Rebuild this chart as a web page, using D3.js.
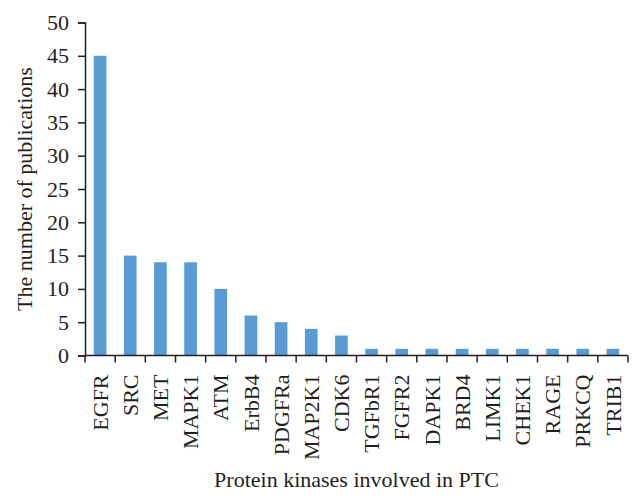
<!DOCTYPE html>
<html><head><meta charset="utf-8">
<script src="https://cdn.jsdelivr.net/npm/d3@7/dist/d3.min.js"></script>
<style>body{margin:0;background:#fff;} svg{display:block;} text{font-family:"Liberation Serif","DejaVu Serif",serif;fill:#231f20;}</style>
</head><body><svg id="c" width="643" height="501"></svg>
<script>
const categories = ["EGFR","SRC","MET","MAPK1","ATM","ErbB4","PDGFRa","MAP2K1","CDK6","TGFbR1","FGFR2","DAPK1","BRD4","LIMK1","CHEK1","RAGE","PRKCQ","TRIB1"];
const values = [45,15,14,14,10,6,5,4,3,1,1,1,1,1,1,1,1,1];
const yTicks = [0,5,10,15,20,25,30,35,40,45,50];
const xTitle = "Protein kinases involved in PTC";
const yTitle = "The number of publications";

const svg = d3.select("#c");
const m = {left:85, right:15, top:22.5, bottom:145.5};
const W = 643, H = 501;
const x = d3.scaleBand().domain(categories).range([m.left, W - m.right]).paddingInner(0.58).paddingOuter(0.29);
const y = d3.scaleLinear().domain([0,50]).range([H - m.bottom, m.top]);

svg.append("g").selectAll("rect").data(values).join("rect")
  .attr("x",(d,i)=>x(categories[i])).attr("width",x.bandwidth())
  .attr("y",d=>y(d)).attr("height",d=>y(0)-y(d)).attr("fill","#5b9bd5");

const yAxis = svg.append("g").attr("transform",`translate(${m.left},0)`)
  .call(d3.axisLeft(y).tickValues(yTicks).tickSize(7).tickPadding(9));
yAxis.selectAll("text").style("font-size","22px");

const x0 = m.left, x1 = W - m.right;
const gx = svg.append("g");
gx.append("line").attr("x1",x0).attr("x2",x1).attr("y1",y(0)).attr("y2",y(0)).attr("stroke","#231f20").attr("stroke-width",1.5);
const step = (x1-x0)/categories.length;
gx.selectAll("line.t").data(d3.range(categories.length+1)).join("line").attr("class","t")
  .attr("x1",i=>x0+i*step).attr("x2",i=>x0+i*step).attr("y1",y(0)).attr("y2",y(0)+7)
  .attr("stroke","#231f20").attr("stroke-width",1.5);
gx.selectAll("text").data(categories).join("text")
  .attr("transform",d=>`translate(${x(d)+x.bandwidth()/2},${y(0)+19}) rotate(-90)`)
  .attr("text-anchor","end").attr("dy","0.35em").style("font-size","22px").text(d=>d);

yAxis.select(".domain").attr("stroke","#231f20").attr("stroke-width",1.5);
yAxis.selectAll(".tick line").attr("stroke","#231f20").attr("stroke-width",1.5);

svg.append("text").attr("x",(x0+x1)/2).attr("y",487).attr("text-anchor","middle").style("font-size","22px").text(xTitle);
svg.append("text").attr("transform",`translate(32,${(y(0)+y(50))/2}) rotate(-90)`).attr("text-anchor","middle").style("font-size","22px").text(yTitle);
</script></body></html>
